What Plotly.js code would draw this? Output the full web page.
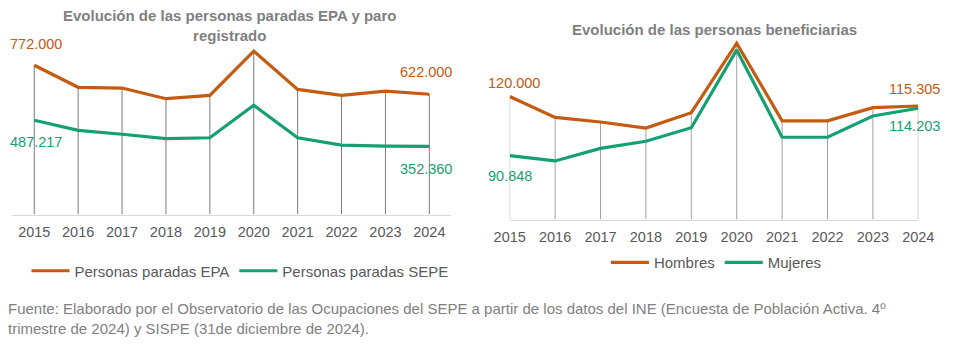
<!DOCTYPE html>
<html>
<head>
<meta charset="utf-8">
<script src="https://cdn.plot.ly/plotly-3.0.1.min.js"></script>
<style>
  html, body { margin: 0; padding: 0; background: #ffffff; }
  #chart { width: 959px; height: 353px; }
</style>
</head>
<body>
<div id="chart"></div>
<script>
// ---------- DATA ----------
const years = [2015, 2016, 2017, 2018, 2019, 2020, 2021, 2022, 2023, 2024];
const tickLabels = ["2015", "2016", "2017", "2018", "2019", "2020", "2021", "2022", "2023", "2024"];

// Left chart: Evolución de las personas paradas EPA y paro registrado
const paradasEPA  = [772000, 658000, 654000, 599000, 616000, 845000, 647000, 616000, 638000, 622000];
const paradasSEPE = [487217, 435000, 415000, 392000, 397000, 565000, 397000, 359000, 354000, 352360];

// Right chart: Evolución de las personas beneficiarias
const hombres = [120000, 109700, 107400, 104450, 112000, 146300, 108000, 108000, 114500, 115305];
const mujeres = [90848, 88200, 94400, 97900, 104600, 143000, 99900, 99900, 110400, 114203];

const seriesNames = ["Personas paradas EPA", "Personas paradas SEPE", "Hombres", "Mujeres"];

// ---------- STYLE ----------
const ORANGE = "#C55A11";
const GREEN = "#14A073";
const FONT = "Liberation Sans, Arial, sans-serif";
const yRange1 = [0, 900000];
const yRange2 = [59300, 150000];

const fmt = v => v.toLocaleString("de-DE");

function dropLines(xs, a, b, bottom) {
  const x = [], y = [];
  xs.forEach((xv, i) => {
    x.push(xv, xv, null);
    y.push(Math.max(a[i], b[i]), bottom, null);
  });
  return { x, y };
}

const d1 = dropLines(years, paradasEPA, paradasSEPE, yRange1[0]);
const d2 = dropLines(years, hombres, mujeres, yRange2[0]);

const traces = [
  { x: d1.x, y: d1.y, xaxis: "x", yaxis: "y", mode: "lines", line: { color: "#7a7a7a", width: 1 },
    showlegend: false, hoverinfo: "skip" },
  { x: years, y: paradasEPA, xaxis: "x", yaxis: "y", mode: "lines", name: seriesNames[0],
    line: { color: ORANGE, width: 3.2 }, legend: "legend" },
  { x: years, y: paradasSEPE, xaxis: "x", yaxis: "y", mode: "lines", name: seriesNames[1],
    line: { color: GREEN, width: 3.2 }, legend: "legend" },

  { x: d2.x, y: d2.y, xaxis: "x2", yaxis: "y2", mode: "lines", line: { color: "#a3a3a3", width: 1 },
    showlegend: false, hoverinfo: "skip" },
  { x: years, y: hombres, xaxis: "x2", yaxis: "y2", mode: "lines", name: seriesNames[2],
    line: { color: ORANGE, width: 3.2 }, legend: "legend2" },
  { x: years, y: mujeres, xaxis: "x2", yaxis: "y2", mode: "lines", name: seriesNames[3],
    line: { color: GREEN, width: 3.2 }, legend: "legend2" }
];

function label(xref, yref, x, y, color, yshift, xshift) {
  return { xref, yref, x, y, text: fmt(y), showarrow: false, yshift, xshift: xshift || 0,
    xanchor: "center", yanchor: "middle",
    font: { family: FONT, size: 14.5, color } };
}

const last = years.length - 1;
const annotations = [
  label("x", "y", years[0], paradasEPA[0], ORANGE, 21, 2),
  label("x", "y", years[0], paradasSEPE[0], GREEN, -22, 2),
  label("x", "y", years[last], paradasEPA[last], ORANGE, 22, -3),
  label("x", "y", years[last], paradasSEPE[last], GREEN, -23, -3),
  label("x2", "y2", years[0], hombres[0], ORANGE, 13, 4),
  label("x2", "y2", years[0], mujeres[0], GREEN, -20, 0),
  label("x2", "y2", years[last], hombres[last], ORANGE, 17, -4),
  label("x2", "y2", years[last], mujeres[last], GREEN, -18, -4),
  { xref: "paper", yref: "paper", x: 229.5 / 959, y: 1 - 25 / 353, showarrow: false,
    xanchor: "center", yanchor: "middle",
    text: "<b>Evolución de las personas paradas EPA y paro<br>registrado</b>",
    font: { family: FONT, size: 15, color: "#7f7f7f" }, align: "center" },
  { xref: "paper", yref: "paper", x: 714 / 959, y: 1 - 30 / 353, showarrow: false,
    xanchor: "center", yanchor: "middle",
    text: "<b>Evolución de las personas beneficiarias</b>",
    font: { family: FONT, size: 15, color: "#7f7f7f" } },
  { xref: "paper", yref: "paper", x: 6 / 959, y: 1 - 318.5 / 353, xanchor: "left", yanchor: "middle",
    showarrow: false, align: "left",
    text: "Fuente: Elaborado por el Observatorio de las Ocupaciones del SEPE a partir de los datos del INE (Encuesta de Población Activa. 4º<br>trimestre de 2024) y SISPE (31de diciembre de 2024).",
    font: { family: FONT, size: 15, color: "#7f7f7f" } }
];

const xBase = {
  tickmode: "array", tickvals: years, ticktext: tickLabels, ticks: "",
  showgrid: false, zeroline: false, showline: true, linecolor: "#d9d9d9", linewidth: 1,
  ticklabelstandoff: 4,
  tickfont: { family: FONT, size: 14.5, color: "#595959" }, fixedrange: true
};
const yBase = { showgrid: false, zeroline: false, showline: false, showticklabels: false, fixedrange: true };

const layout = {
  width: 959, height: 353,
  margin: { l: 0, r: 0, t: 0, b: 0, pad: 0 },
  paper_bgcolor: "#ffffff", plot_bgcolor: "rgba(0,0,0,0)",
  font: { family: FONT, color: "#595959" },
  xaxis: Object.assign({}, xBase, { domain: [12.3 / 959, 451.3 / 959], range: [2014.5, 2024.5], anchor: "y" }),
  yaxis: Object.assign({}, yBase, { domain: [1 - 214.5 / 353, 1 - 40.5 / 353], range: yRange1, anchor: "x" }),
  xaxis2: Object.assign({}, xBase, { domain: [509.7 / 959, 918.3 / 959], range: [2015, 2024], anchor: "y2" }),
  yaxis2: Object.assign({}, yBase, { domain: [1 - 219.5 / 353, 1 - 35.7 / 353], range: yRange2, anchor: "x2" }),
  legend: { orientation: "h", xanchor: "center", yanchor: "middle", x: 240 / 959, y: 1 - 271 / 353,
    itemwidth: 38,
    font: { family: FONT, size: 15, color: "#595959" }, bgcolor: "rgba(0,0,0,0)", itemclick: false },
  legend2: { orientation: "h", xanchor: "center", yanchor: "middle", x: 716.4 / 959, y: 1 - 262.7 / 353,
    itemwidth: 38,
    font: { family: FONT, size: 15, color: "#595959" }, bgcolor: "rgba(0,0,0,0)", itemclick: false },
  annotations,
  showlegend: true,
  hovermode: false
};

Plotly.newPlot("chart", traces, layout, { staticPlot: true, displayModeBar: false });
</script>
</body>
</html>
